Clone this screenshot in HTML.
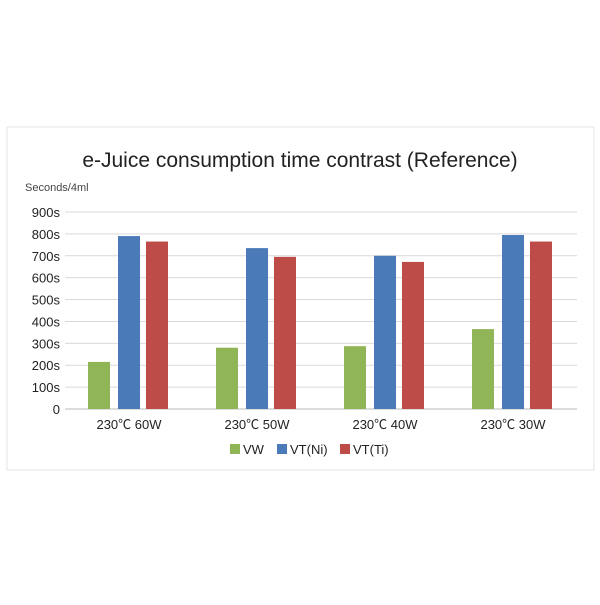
<!DOCTYPE html>
<html><head><meta charset="utf-8"><style>
body{margin:0;background:#fff;width:600px;height:600px;overflow:hidden;font-family:"Liberation Sans","Noto Sans CJK SC",sans-serif}
</style></head><body>
<svg width="600" height="600" xmlns="http://www.w3.org/2000/svg" font-family="Liberation Sans, Noto Sans CJK SC, sans-serif">
<rect x="7" y="127" width="587" height="343" fill="#fff" stroke="#e4e4e4"/>
<text x="300" y="167" text-anchor="middle" font-size="21" fill="#222">e-Juice consumption time contrast (Reference)</text>
<text x="25" y="191" font-size="11" fill="#444">Seconds/4ml</text>
<g id="grid"></g><g id="bars"></g><g id="labels"></g>
<g>
<rect x="230" y="444" width="10" height="10" fill="#8fb556"/>
<text x="243" y="454" font-size="13" fill="#222">VW</text>
<rect x="277" y="444" width="10" height="10" fill="#4a7ab8"/>
<text x="290" y="454" font-size="13" fill="#222">VT(Ni)</text>
<rect x="340" y="444" width="10" height="10" fill="#bd4b48"/>
<text x="353" y="454" font-size="13" fill="#222">VT(Ti)</text>
</g>
</svg>
<script>
const categories=["230℃ 60W","230℃ 50W","230℃ 40W","230℃ 30W"];
const vw=[215,280,287,365];
const vtNi=[790,735,700,795];
const vtTi=[765,695,672,765];
const ticks=[0,100,200,300,400,500,600,700,800,900];
const tickLabels=["0","100s","200s","300s","400s","500s","600s","700s","800s","900s"];
const NS="http://www.w3.org/2000/svg";
const x0=65,x1=577,y0=409,y900=212;
const y=v=>y0-(v/900)*(y0-y900);
const band=(x1-x0)/categories.length;
const cx=i=>x0+band*(i+0.5);
function mk(t,a){const e=document.createElementNS(NS,t);for(const k in a)e.setAttribute(k,a[k]);return e;}
const grid=document.getElementById('grid'),bars=document.getElementById('bars'),labels=document.getElementById('labels');
ticks.forEach((t,i)=>{
 const l=mk('line',{x1:x0,x2:x1,y1:y(t),y2:y(t),stroke:i===0?'#bbb':'#d9d9d9','stroke-width':1});
 
 
 grid.appendChild(l);
 const tx=mk('text',{x:60,y:y(t)+5,'text-anchor':'end','font-size':13,fill:'#222'});
 tx.textContent=tickLabels[i];
 
 
 labels.appendChild(tx);
});
const series=[[vw,'#8fb556',-30,'vw'],[vtNi,'#4a7ab8',0,'vt-ni'],[vtTi,'#bd4b48',28,'vt-ti']];
categories.forEach((c,i)=>{
 series.forEach(([arr,col,off,nm])=>{
  const r=mk('rect',{x:cx(i)+off-11,y:y(arr[i]),width:22,height:y0-y(arr[i]),fill:col});
  
  
  bars.appendChild(r);
 });
 const t=mk('text',{x:cx(i),y:429,'text-anchor':'middle','font-size':13,fill:'#222'});
 t.textContent=c;
 
 
 labels.appendChild(t);
});
</script>
</body></html>
